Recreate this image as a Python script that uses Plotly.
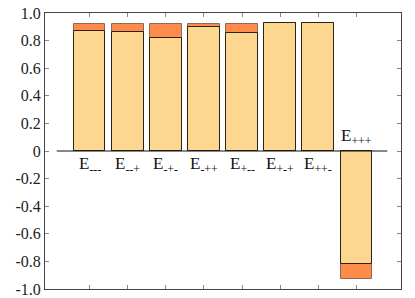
import plotly.graph_objects as go

categories = ["---", "--+", "-+-", "-++", "+--", "+-+", "++-", "+++"]
base_values = [0.873, 0.863, 0.822, 0.902, 0.858, 0.924, 0.924, -0.817]
total_values = [0.919, 0.919, 0.919, 0.919, 0.919, 0.924, 0.924, -0.926]
y_tickvals = [1.0, 0.8, 0.6, 0.4, 0.2, 0, -0.2, -0.4, -0.6, -0.8, -1.0]
y_ticktext = ["1.0", "0.8", "0.6", "0.4", "0.2", "0", "-0.2", "-0.4", "-0.6", "-0.8", "-1.0"]

x = list(range(len(categories)))
PALE = "#FDD68F"
ORANGE = "#FF8B4A"
FONT = "Liberation Serif, Times New Roman, serif"

fig = go.Figure()
fig.add_trace(go.Bar(x=x, y=total_values, width=0.82, marker=dict(color=ORANGE, line=dict(color="#8a6a5a", width=1)), showlegend=False))
fig.add_trace(go.Bar(x=x, y=base_values, width=0.82, marker=dict(color=PALE, line=dict(color="#2a2418", width=1)), showlegend=False))

for xi, cat, v in zip(x, categories, base_values):
    if v >= 0:
        fig.add_annotation(x=xi, y=0, text="E<sub>%s</sub>" % cat, showarrow=False,
                           yanchor="top", yshift=-1, font=dict(family=FONT, size=17, color="#111"))
    else:
        fig.add_annotation(x=xi, y=0, text="E<sub>%s</sub>" % cat, showarrow=False,
                           yanchor="bottom", yshift=1, font=dict(family=FONT, size=17, color="#111"))

fig.add_shape(type="line", xref="x", yref="y", x0=-0.87, x1=7.82, y0=0, y1=0,
              line=dict(color="#111", width=1), layer="above")

# page body has an 8px margin: figure is sized to the remaining area
fig.update_layout(
    width=407, height=290,
    margin=dict(l=37, r=14, t=5, b=8.5, autoexpand=False),
    barmode="overlay",
    plot_bgcolor="white", paper_bgcolor="white",
    font=dict(family=FONT, size=16, color="#222"),
    bargap=0,
)
fig.update_xaxes(range=[-1.18, 8.18], showgrid=False, zeroline=False, showline=True, mirror="ticks",
                 linecolor="#444", linewidth=1, ticks="inside", ticklen=4, tickcolor="#888",
                 tickvals=x, showticklabels=False, automargin=False)
fig.update_yaxes(range=[-1, 1], showgrid=False, zeroline=False, showline=True, mirror="ticks",
                 linecolor="#444", linewidth=1, ticks="inside", ticklen=4, tickcolor="#888",
                 tickvals=y_tickvals, ticktext=y_ticktext, automargin=False,
                 ticklabeloverflow="allow",
                 tickfont=dict(family=FONT, size=16, color="#222"))

fig.write_html("out.html")
